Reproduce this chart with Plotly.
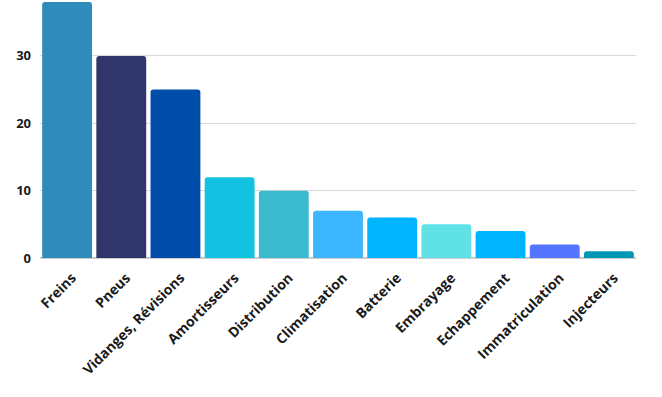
import plotly.graph_objects as go

categories = ["Freins", "Pneus", "Vidanges, Révisions", "Amortisseurs", "Distribution",
              "Climatisation", "Batterie", "Embrayage", "Echappement", "Immatriculation", "Injecteurs"]
values = [38, 30, 25, 12, 10, 7, 6, 5, 4, 2, 1]
colors = ["#2E8BBA", "#30356B", "#014DAA", "#12C2E0", "#3BBACE", "#3CB6FF",
          "#00B4FF", "#5FE1E6", "#00B4FF", "#5574FF", "#0097B2"]
y_ticks = [0, 10, 20, 30]

fig = go.Figure(go.Bar(x=categories, y=values, marker=dict(color=colors, line=dict(width=0))))

fig.update_layout(
    width=662, height=397,
    margin=dict(l=40, r=26, t=2, b=139),
    plot_bgcolor="white", paper_bgcolor="white",
    bargap=0.08, barcornerradius=3,
    showlegend=False,
    font=dict(family="Open Sans", color="#1a1a1a"),
)
fig.update_xaxes(tickangle=-45, tickfont=dict(size=14, weight="bold", family="Open Sans"),
                 showgrid=False, ticks="", showline=False, automargin=False,
                 ticklabelstandoff=8, ticklabelshift=5)
fig.update_yaxes(range=[0, 38], tickvals=y_ticks, showgrid=True, gridcolor="#d9d9d9",
                 zeroline=True, zerolinecolor="#cccccc", zerolinewidth=2, automargin=False,
                 tickfont=dict(size=13, weight="bold", family="Open Sans"), ticklabelstandoff=8)

fig.write_html("out.html", config={"displayModeBar": False},
               post_script="document.body.style.margin='0';document.body.style.padding='0';")
